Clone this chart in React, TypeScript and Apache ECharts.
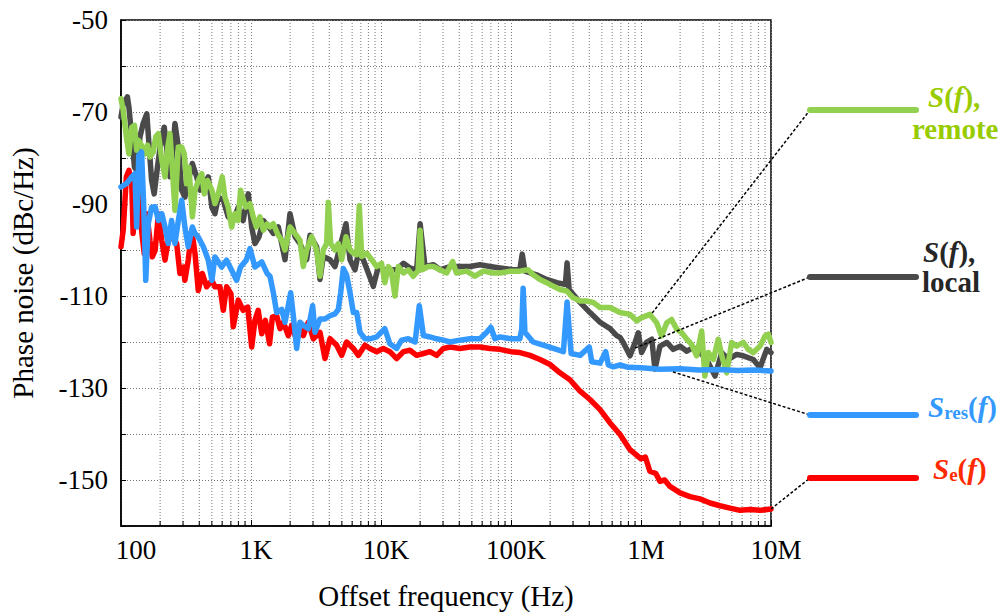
import { useEffect, useRef } from 'react';
import * as echarts from 'echarts';

const FONT = '"Liberation Serif", "Times New Roman", serif';

// tick labels
const xTickValues = [100, 1e3, 1e4, 1e5, 1e6, 1e7];
const xTickLabels = ['100', '1K', '10K', '100K', '1M', '10M'];
const yTickLabels = [-50, -70, -90, -110, -130, -150];

// S(f), remote  [Hz, dBc/Hz]
const remote: [number, number][] = [
  [100, -67.1], [104, -69.6], [110, -75.4], [115, -79.1], [121, -73.3], [127, -72.9], [132, -78.3], [137, -76.2],
  [146, -77.6], [153, -79.1], [160, -77.2], [167, -79.8], [177, -78.7], [185, -75.4], [194, -74.7], [206, -80.5],
  [218, -84.1], [229, -77.6], [238, -74.7], [248, -82], [260, -91.4], [276, -77.6], [293, -77.6], [307, -79.1],
  [320, -85.6], [333, -82], [354, -92.8], [371, -87], [393, -84.9], [418, -83.4], [437, -87.8], [463, -84.9],
  [500, -87], [528, -89.9], [560, -87.8], [601, -84.1], [630, -88.5], [668, -90.7], [710, -95], [752, -92.1],
  [798, -93.6], [831, -87], [910, -90.7], [982, -89.9], [1040, -92.8], [1100, -95], [1170, -92.8], [1245, -95.7],
  [1330, -94.3], [1400, -95], [1485, -94.3], [1600, -96.5], [1722, -97.9], [1826, -100], [1995, -95], [2180, -96.4],
  [2382, -97.9], [2527, -103.6], [2680, -100], [2928, -97.1], [3198, -100], [3393, -105.7], [3598, -100],
  [3817, -98.6], [3932, -89.6], [4100, -98.6], [4426, -100], [4697, -98.6], [4983, -102.1], [5381, -97.1],
  [5776, -100], [6124, -100.7], [6500, -101], [6810, -90.4], [7097, -101.4], [7756, -100.7], [8477, -102.1],
  [9265, -103.6], [10100, -102.9], [10700, -107.1], [11400, -103.6], [12000, -104.5], [12800, -110], [13600, -103.6],
  [14900, -105], [16200, -104.3], [17700, -105.7], [19300, -104.5], [20000, -95.7], [20700, -104.3], [23100, -103.6],
  [25300, -103.6], [28400, -104.3], [32000, -105], [35600, -102.5], [38000, -105], [45600, -104.6], [52800, -105.7],
  [61200, -104.6], [73000, -105], [82300, -105], [100000, -104.6], [117000, -104.6], [135000, -104.3],
  [148000, -105.4], [167000, -106.4], [188000, -107.1], [212000, -107.9], [238000, -108.6], [268000, -108.9],
  [301000, -110.4], [340000, -111.1], [382000, -111.1], [430000, -111.4], [484000, -112.5], [578000, -112.5],
  [690000, -113.6], [823000, -114], [927000, -115.4], [1010000, -114.7], [1170000, -114], [1320000, -115.8],
  [1440000, -118.7], [1580000, -115.8], [1720000, -115.1], [1880000, -117.2], [2060000, -118], [2250000, -119.4],
  [2450000, -120.5], [2680000, -123], [2930000, -117.6], [3100000, -127.4], [3300000, -122.3], [3600000, -123.8],
  [3930000, -119.4], [4180000, -123], [4560000, -126.7], [4980000, -120.1], [5440000, -120.9], [6120000, -120.1],
  [6690000, -121.6], [7310000, -122.3], [8230000, -120.9], [9000000, -118.7], [9540000, -118.3], [10000000, -120.1],
];

// S(f), local
const local: [number, number][] = [
  [100, -71.1], [104, -68.2], [112, -66.7], [115, -68.9], [121, -75.4], [127, -82], [132, -82.7], [140, -75.4],
  [148, -72.5], [158, -70.4], [164, -76.9], [172, -84.9], [180, -87.8], [188, -83.4], [200, -77.6], [215, -73.3],
  [224, -77.6], [238, -84.1], [252, -77.6], [260, -72.5], [276, -77.6], [293, -87], [310, -88.5], [329, -84.9],
  [354, -81.2], [382, -84.1], [405, -87], [430, -86.3], [469, -84.1], [500, -90.7], [528, -92.1], [560, -88.5],
  [612, -89.2], [668, -92.8], [730, -93.6], [798, -90.7], [870, -93.6], [953, -87.8], [1012, -95], [1072, -98.6],
  [1150, -97.2], [1245, -93.6], [1370, -95], [1485, -96.4], [1622, -95], [1826, -102.1], [1995, -92.1],
  [2180, -97.1], [2382, -98.6], [2680, -102.1], [2843, -96.8], [3198, -99.3], [3393, -106.4], [3598, -101.4],
  [4049, -102.1], [4426, -103.6], [4838, -99.3], [5381, -94.3], [5776, -102.1], [6310, -104.3], [6695, -100.7],
  [7310, -102.1], [7990, -105], [8730, -107.9], [9540, -103.6], [10400, -104.3], [11700, -104.3], [13200, -104.3],
  [14900, -102.9], [16700, -103.9], [18800, -104.3], [20000, -94.3], [21800, -103.6], [25300, -103.2],
  [28400, -104.3], [34000, -103.6], [40500, -103.6], [48400, -103.6], [57700, -103.2], [68900, -103.6],
  [82300, -103.9], [104000, -104.3], [117000, -104.3], [122000, -100.9], [128000, -104.6], [157000, -105.4],
  [188000, -106.4], [225000, -107.1], [262000, -107.5], [270000, -102.8], [280000, -108.6], [340000, -111.4],
  [405000, -113.6], [484000, -115.7], [578000, -117.1], [650000, -118.6], [690000, -119], [730000, -120.1],
  [823000, -123], [900000, -120.1], [953000, -118], [1010000, -122.3], [1100000, -120.1], [1210000, -119.4],
  [1280000, -125.9], [1400000, -120.9], [1580000, -120.1], [1770000, -121.6], [2000000, -120.9], [2250000, -122],
  [2520000, -121.2], [2840000, -122.3], [3200000, -123.8], [3710000, -127.4], [4180000, -122.3], [4700000, -123.8],
  [5440000, -122.7], [6120000, -123], [7310000, -123.8], [8230000, -125.6], [9270000, -121.6], [10000000, -122.3],
];

// S_res(f)
const residual: [number, number][] = [
  [100, -86.3], [110, -85.6], [121, -84.1], [128, -83.4], [132, -95], [137, -79.4], [144, -78.7], [150, -91.4],
  [155, -106.6], [162, -94.3], [172, -90.7], [183, -90.6], [194, -93.6], [206, -92.1], [218, -95], [231, -98.6],
  [245, -93.6], [260, -98.6], [276, -93.6], [293, -89.2], [310, -95], [329, -99.3], [354, -95], [371, -96.4],
  [393, -97.2], [430, -99.3], [469, -102.2], [500, -106.6], [528, -101.5], [595, -103.7], [649, -102.2],
  [710, -104.4], [775, -106.6], [831, -103.7], [920, -102.2], [982, -99.7], [1072, -103.7], [1210, -102.6],
  [1330, -105.1], [1400, -105.7], [1485, -109.3], [1576, -113.6], [1722, -112.9], [1826, -115.7], [1936, -112.1],
  [2020, -109.3], [2117, -114.3], [2245, -121.4], [2382, -115.7], [2527, -116.4], [2760, -117.1], [2980, -112.1],
  [3105, -117.9], [3393, -115], [3707, -115], [4049, -114.3], [4426, -113.9], [4697, -112.9], [4896, -109.3],
  [5131, -104], [5443, -105.5], [5776, -109.3], [6124, -113.6], [6500, -113.6], [6891, -117.9], [7530, -119.3],
  [8230, -119.3], [9265, -118.9], [10700, -117.1], [11700, -120.4], [13200, -121.4], [14400, -119.6],
  [16200, -119.3], [18300, -120], [19700, -112.1], [21200, -118.6], [23800, -118.9], [26800, -119.3],
  [30200, -119.6], [34000, -120], [40500, -119.6], [48400, -119.3], [57700, -119.3], [65000, -117.9],
  [70000, -116.8], [75300, -119.3], [82300, -118.9], [100000, -119.3], [117000, -119.3], [121000, -117.1],
  [124000, -108.3], [128000, -117.9], [148000, -120], [177000, -120.7], [212000, -121.4], [253000, -122.1],
  [270000, -111.3], [290000, -122.5], [340000, -122.9], [400000, -121.1], [418000, -124.3], [484000, -124.6],
  [535000, -122.1], [561000, -125], [612000, -125.4], [689000, -125], [800000, -125.5], [1000000, -125.6],
  [1400000, -125.9], [2000000, -125.8], [2800000, -126.1], [4000000, -126], [5500000, -126.2], [7300000, -126.1],
  [10000000, -126.3],
];

// S_e(f)
const electronic: [number, number][] = [
  [100, -99.3], [104, -95.7], [110, -84.1], [115, -82.7], [121, -85.6], [124, -96.4], [130, -84.9], [136, -87.8],
  [144, -95.7], [151, -100.8], [158, -92.1], [167, -97.9], [174, -101.5], [183, -100.1], [194, -92.1],
  [206, -97.9], [218, -102.2], [229, -98.6], [238, -97.2], [252, -97.2], [268, -98.6], [284, -105.1],
  [302, -103.7], [310, -106.6], [329, -102.2], [350, -95.7], [371, -100.8], [393, -108.8], [422, -105.1],
  [456, -108], [500, -106.6], [528, -108], [577, -108], [612, -113.1], [649, -108], [701, -109.5], [730, -116.7],
  [798, -110.9], [870, -113.1], [944, -112.4], [1012, -121.1], [1072, -115.3], [1135, -113.1], [1210, -118.2],
  [1290, -115.3], [1390, -120.4], [1460, -114.6], [1576, -114.3], [1671, -117.1], [1773, -115.7], [1936, -118.6],
  [2056, -116.4], [2245, -119.6], [2382, -117.1], [2527, -118.6], [2760, -115.7], [3015, -119.3], [3393, -117.9],
  [3707, -123.6], [4049, -119.3], [4560, -120.7], [4983, -122.9], [5443, -120], [6124, -121.4], [6695, -122.9],
  [7530, -120.7], [8230, -121.4], [9265, -122.1], [10400, -121.4], [11700, -122.1], [13200, -123.6],
  [14900, -122.1], [16700, -121.8], [18800, -122.9], [21200, -122.5], [23800, -122.1], [26800, -122.9],
  [30200, -121.4], [34000, -121.1], [40500, -121.4], [48400, -121.1], [57700, -121.1], [68900, -121.4],
  [82300, -121.6], [100000, -122.1], [117000, -122.3], [140000, -122.9], [167000, -123.8], [200000, -124.9],
  [238000, -126.7], [284000, -128.2], [340000, -130.7], [405000, -132.5], [484000, -134.7], [578000, -137.6],
  [690000, -140.1], [823000, -143.4], [1000000, -145.4], [1080000, -145], [1170000, -148.1], [1300000, -148.6],
  [1400000, -150.3], [1520000, -150], [1670000, -151.4], [2000000, -152.8], [2380000, -153.6], [2840000, -154.1],
  [3400000, -155], [4050000, -155.6], [4840000, -156.1], [5780000, -156.6], [6890000, -156.4], [8230000, -156.6],
  [10000000, -156.3],
];

// legend callouts: point on the curve the dotted leader starts from
const remoteAnchor: [number, number] = [1.22e6, -113.7];
const localAnchor: [number, number] = [0.9e6, -121.3];
const residualAnchor: [number, number] = [1.76e6, -126.5];
const electronicAnchor: [number, number] = [1e7, -156.3];

const GREEN = '#92D050';
const DARK = '#4A4A4A';
const BLUE = '#3399FF';
const RED = '#FF0000';

const minorFreqs: [number, number][] = [];
for (let n = 2; n < 7; n++) {
  for (let k = 2; k <= 9; k++) minorFreqs.push([k * Math.pow(10, n), -160]);
}

function lineSeries(name: string, data: [number, number][], color: string, z: number) {
  return {
    name,
    type: 'line',
    data,
    showSymbol: false,
    symbol: 'none',
    z,
    lineStyle: { color, width: 5.5, cap: 'round', join: 'round' },
    silent: true,
  };
}

const tickFont = { fontFamily: FONT, fontSize: 27, color: '#000' };

function legendRich(color: string) {
  return {
    i: { fontFamily: FONT, fontSize: 29, fontWeight: 'bold', fontStyle: 'italic', color, lineHeight: 30 },
    n: { fontFamily: FONT, fontSize: 29, fontWeight: 'bold', color, lineHeight: 30 },
    s: { fontFamily: FONT, fontSize: 19, fontWeight: 'bold', color, lineHeight: 19, verticalAlign: 'bottom' },
  };
}

function legendTitle(text: string, left: number, top: number, color: string) {
  return {
    text,
    left,
    top,
    padding: 0,
    itemGap: 0,
    textStyle: { fontFamily: FONT, fontSize: 29, fontWeight: 'bold', color, lineHeight: 30, rich: legendRich(color) },
  };
}

export default function App() {
  const ref = useRef<HTMLDivElement>(null);
  useEffect(() => {
    const chart = echarts.init(ref.current!, null, { renderer: 'svg' });
    const option: any = {
      animation: false,
      backgroundColor: '#ffffff',
      textStyle: { fontFamily: FONT },
      title: [
        legendTitle('{i|S}{n|(}{i|f}{n|),}', 928, 82, '#99CC00'),
        legendTitle('{n|remote}', 912, 114, '#99CC00'),
        legendTitle('{i|S}{n|(}{i|f}{n|),}', 923, 237, '#262626'),
        legendTitle('{n|local}', 922, 267, '#262626'),
        legendTitle('{i|S}{s|res}{n|(}{i|f}{n|)}', 928, 392, '#3399FF'),
        legendTitle('{i|S}{s|e}{n|(}{i|f}{n|)}', 933, 454, '#FF2A00'),
      ],
      grid: { left: 121, top: 20, width: 650, height: 506, show: true, borderColor: '#000', borderWidth: 1.5, backgroundColor: 'transparent' },
      xAxis: {
        type: 'log',
        logBase: 10,
        min: 100,
        max: 1e7,
        splitNumber: 5,
        name: 'Offset frequency (Hz)',
        nameLocation: 'middle',
        nameGap: 55,
        nameTextStyle: { fontFamily: FONT, fontSize: 29, color: '#000' },
        axisLine: { show: true, lineStyle: { color: '#000', width: 1.5 } },
        axisTick: { show: true, inside: true, length: 6, lineStyle: { color: '#000' } },
        axisLabel: {
          ...tickFont,
          margin: 10,
          formatter: (v: number) => {
            const i = xTickValues.findIndex((t) => Math.abs(Math.log10(t) - Math.log10(v)) < 1e-6);
            if (i < 0) return '';
            return i === 0 ? `{p|${xTickLabels[i]}}` : `{a|${xTickLabels[i]}}`;
          },
          rich: {
            a: { ...tickFont, padding: [0, 0, 0, 10] },
            p: { ...tickFont, padding: [0, 0, 0, 30] },
          },
        },
        splitLine: { show: true, lineStyle: { color: '#777', width: 1, type: [1, 2] } },
      },
      yAxis: {
        type: 'value',
        min: -160,
        max: -50,
        interval: 10,
        name: 'Phase noise (dBc/Hz)',
        nameLocation: 'middle',
        nameGap: 84,
        nameTextStyle: { fontFamily: FONT, fontSize: 29, color: '#000' },
        axisLine: { show: true, lineStyle: { color: '#000', width: 1.5 } },
        axisTick: { show: true, inside: true, length: 5, lineStyle: { color: '#000' } },
        axisLabel: {
          ...tickFont,
          margin: 13,
          formatter: (v: number) => (yTickLabels.includes(v) ? String(v) : ''),
        },
        splitLine: { show: true, lineStyle: { color: '#777', width: 1, type: [1, 2] } },
      },
      series: [
        {
          type: 'custom',
          silent: true,
          z: 1,
          data: minorFreqs,
          encode: { x: 0, y: 1 },
          renderItem: (_p: any, api: any) => {
            const f = api.value(0);
            const top = api.coord([f, -50]);
            const bot = api.coord([f, -160]);
            return {
              type: 'group',
              children: [
                { type: 'line', shape: { x1: top[0], y1: top[1], x2: bot[0], y2: bot[1] }, style: { stroke: '#777', lineWidth: 1, lineDash: [1, 2] } },
                { type: 'line', shape: { x1: bot[0], y1: bot[1], x2: bot[0], y2: bot[1] - 5 }, style: { stroke: '#000', lineWidth: 1 } },
              ],
            };
          },
        },
        lineSeries('S(f), local', local, DARK, 3),
        lineSeries('S(f), remote', remote, GREEN, 4),
        lineSeries('Se(f)', electronic, RED, 5),
        lineSeries('Sres(f)', residual, BLUE, 6),
      ],
    };
    chart.setOption(option);

    const items = [
      { anchor: remoteAnchor, color: GREEN, y: 110 },
      { anchor: localAnchor, color: DARK, y: 277 },
      { anchor: residualAnchor, color: BLUE, y: 415 },
      { anchor: electronicAnchor, color: RED, y: 478 },
    ];
    const graphics: any[] = [];
    items.forEach((it) => {
      const p = chart.convertToPixel({ gridIndex: 0 }, it.anchor) as number[];
      graphics.push({
        type: 'line', z: 100, silent: true,
        shape: { x1: p[0], y1: p[1], x2: 810, y2: it.y },
        style: { stroke: '#000', lineWidth: 1.5, lineDash: [3, 2] },
      });
      graphics.push({
        type: 'line', z: 101, silent: true,
        shape: { x1: 810, y1: it.y, x2: 916, y2: it.y },
        style: { stroke: it.color, lineWidth: 6, lineCap: 'round' },
      });
    });
    chart.setOption({ graphic: graphics });
    return () => chart.dispose();
  }, []);
  return <div ref={ref} style={{ position: 'absolute', left: 0, top: 0, width: 1001, height: 616 }} />;
}
